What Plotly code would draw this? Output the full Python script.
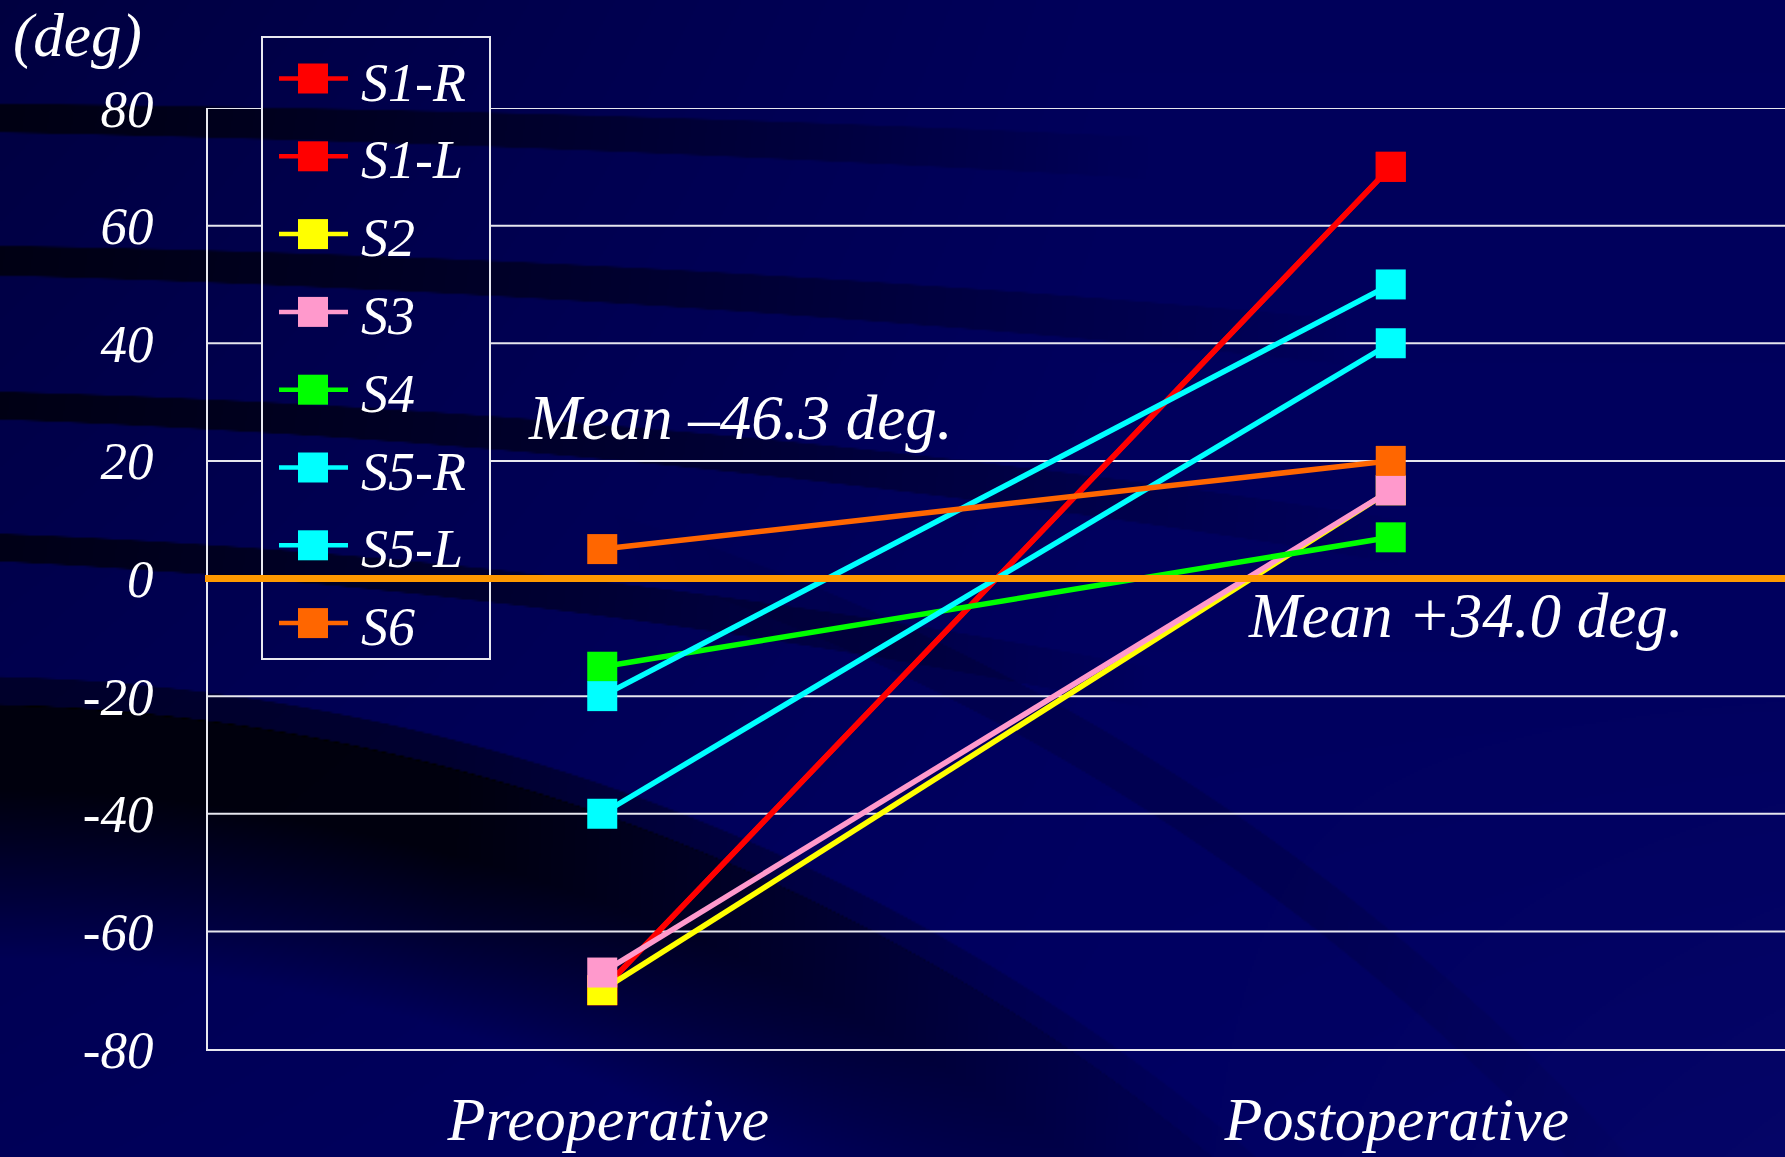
import base64
import struct
import zlib

import numpy as np
import plotly.graph_objects as go

# ---------------------------------------------------------------- data
categories = ["Preoperative", "Postoperative"]
series_names = ["S1-R", "S1-L", "S2", "S3", "S4", "S5-R", "S5-L", "S6"]
preoperative = [-70, -70, -70, -67, -15, -20, -40, 5]
postoperative = [70, 70, 15, 15, 7, 50, 40, 20]
series_colors = ["#FF0000", "#FF0000", "#FFFF00", "#FF99CC",
                 "#00FF00", "#00FFFF", "#00FFFF", "#FF6600"]

y_tick_values = [-80, -60, -40, -20, 0, 20, 40, 60, 80]
y_tick_labels = ["-80", "-60", "-40", "-20", "0", "20", "40", "60", "80"]
grid_values = [-60, -40, -20, 20, 40, 60, 80]

mean_pre_label = "Mean \u201346.3 deg."
mean_post_label = "Mean +34.0 deg."
unit_label = "(deg)"

# ---------------------------------------------------------------- page geometry
W, H = 1785, 1157
ML, MR, MT, MB = 208, 0, 108, 108
PW, PH = W - ML - MR, H - MT - MB
Y_MIN, Y_MAX = -80, 80


def px(x):
    """page pixel x -> paper coordinate"""
    return (x - ML) / PW


def py(y):
    """page pixel y (from top) -> paper coordinate"""
    return (H - MB - y) / PH


def value_to_page_y(v):
    return MT + (Y_MAX - v) / (Y_MAX - Y_MIN) * PH


FONT = "Liberation Serif"
WHITE = "#FFFFFF"


# ---------------------------------------------------------------- slide background
def smooth_band(depth, thick):
    return np.clip(depth + 0.75, 0, 1) * np.clip(thick - depth + 0.75, 0, 1)


def build_background():
    w2, h2 = (W + 1) // 2, (H + 1) // 2
    X = (np.arange(w2) + 0.5) * W / w2
    Y = (np.arange(h2) + 0.5) * H / h2
    X, Y = np.meshgrid(X, Y)

    fx = np.clip(1 - X / 1100, 0, 1)
    blue = 90 + 8 * (Y / H) - 26 * fx * (1 - 0.6 * Y / H)

    keep = np.ones_like(X)

    # near-horizontal dark sweeps on the upper part
    sweeps = [  # (top edge at left, thickness, radius, strength, fade end x)
        (104, 28, 30000, 0.72, 1150),
        (246, 29, 17800, 0.72, 1350),
        (392, 27, 11000, 0.72, 1400),
        (534, 27, 7600, 0.70, 1150),
    ]
    cx = -300.0
    for y0, thick, R, k0, fade_end in sweeps:
        cy = y0 + np.sqrt(R * R - cx * cx)
        depth = R - np.hypot(X - cx, Y - cy)
        fade = np.clip((fade_end - X) / fade_end, 0, 1) ** 0.8
        keep *= 1 - k0 * smooth_band(depth, thick + X / 90) * fade

    # large dark swoosh in the lower left
    cx, cy, R = -48.6, 2685.7, 2009.3
    depth = R - np.hypot(X - cx, Y - cy)
    outer = 0.45 * smooth_band(depth, 28)
    inner = (np.clip(depth - 28 + 0.75, 0, 1) * 0.84
             * np.clip(1 - (depth - 110) / 170, 0, 1))
    xfade = np.clip(1 - (X - 450) / 900, 0.15, 1)
    keep *= 1 - (outer + inner) * xfade

    # faint outer arc towards the lower right
    depth2 = (R + 260) - np.hypot(X - cx, Y - cy)
    arc_fade = np.clip((X - 600) / 300, 0, 1) * np.clip((1700 - X) / 400, 0, 1)
    keep *= 1 - 0.15 * smooth_band(depth2, 45) * arc_fade

    blue = blue * keep
    glow = 5 * np.clip((X - 1150) / 635, 0, 1) * np.clip((Y - 650) / 507, 0, 1)
    img = np.stack([glow, glow, blue + glow], axis=-1)
    return np.clip(np.round(img), 0, 255).astype(np.uint8)


def to_png(img):
    h, w, _ = img.shape
    raw = np.concatenate([np.zeros((h, 1), np.uint8), img.reshape(h, w * 3)], axis=1).tobytes()

    def chunk(tag, data):
        return (struct.pack(">I", len(data)) + tag + data
                + struct.pack(">I", zlib.crc32(tag + data) & 0xFFFFFFFF))

    return (b"\x89PNG\r\n\x1a\n"
            + chunk(b"IHDR", struct.pack(">IIBBBBB", w, h, 8, 2, 0, 0, 0))
            + chunk(b"IDAT", zlib.compress(raw, 9))
            + chunk(b"IEND", b""))


bg_uri = "data:image/png;base64," + base64.b64encode(to_png(build_background())).decode()

# ---------------------------------------------------------------- traces
fig = go.Figure()
for name, pre, post, color in zip(series_names, preoperative, postoperative, series_colors):
    fig.add_trace(go.Scatter(
        x=categories, y=[pre, post], name=name, mode="lines+markers",
        line=dict(color=color, width=5.5),
        marker=dict(symbol="square", size=30, color=color, line=dict(width=0)),
        showlegend=False, cliponaxis=False,
    ))

shapes = []

# horizontal gridlines, interrupted where they pass behind the legend box
LEG_L, LEG_R, LEG_T, LEG_B = 262, 490, 37, 659
for v in grid_values:
    if LEG_T <= value_to_page_y(v) <= LEG_B:
        spans = ((0, px(LEG_L)), (px(LEG_R), 1))
    else:
        spans = ((0, 1),)
    for x0, x1 in spans:
        shapes.append(dict(type="line", xref="paper", yref="y", x0=x0, x1=x1, y0=v, y1=v,
                           line=dict(color="#E6E6EE", width=2), layer="below"))

# legend frame and entries
shapes.append(dict(type="rect", xref="paper", yref="paper",
                   x0=px(LEG_L), x1=px(LEG_R), y0=py(LEG_B), y1=py(LEG_T),
                   line=dict(color="#E8E8F0", width=2), fillcolor="rgba(0,0,0,0)", layer="above"))

annotations = []
ROW0, ROW_STEP = 78.5, 77.8
for i, (name, color) in enumerate(zip(series_names, series_colors)):
    yc = ROW0 + i * ROW_STEP
    shapes.append(dict(type="line", xref="paper", yref="paper",
                       x0=px(279), x1=px(348), y0=py(yc), y1=py(yc),
                       line=dict(color=color, width=4.5), layer="above"))
    shapes.append(dict(type="rect", xref="paper", yref="paper",
                       x0=px(298), x1=px(328), y0=py(yc + 15), y1=py(yc - 15),
                       line=dict(width=0), fillcolor=color, layer="above"))
    annotations.append(dict(text=name, xref="paper", yref="paper", x=px(359), y=py(yc + 4),
                            xanchor="left", yanchor="middle", showarrow=False,
                            font=dict(family=FONT, size=54, color=WHITE, style="italic")))

# orange zero line drawn over everything
shapes.append(dict(type="line", xref="paper", yref="y", x0=px(205), x1=1, y0=0, y1=0,
                   line=dict(color="#FF9900", width=7), layer="above"))

# text labels
annotations += [
    dict(text=unit_label, xref="paper", yref="paper", x=px(11), y=py(36),
         xanchor="left", yanchor="middle", showarrow=False,
         font=dict(family=FONT, size=61, color=WHITE, style="italic")),
    dict(text=mean_pre_label, xref="paper", yref="paper", x=px(526), y=py(418),
         xanchor="left", yanchor="middle", showarrow=False,
         font=dict(family=FONT, size=63, color=WHITE, style="italic")),
    dict(text=mean_post_label, xref="paper", yref="paper", x=px(1246), y=py(616),
         xanchor="left", yanchor="middle", showarrow=False,
         font=dict(family=FONT, size=63, color=WHITE, style="italic")),
]

fig.update_layout(
    width=W, height=H,
    margin=dict(l=ML, r=MR, t=MT, b=MB, pad=0, autoexpand=False),
    paper_bgcolor="#000050", plot_bgcolor="rgba(0,0,0,0)",
    showlegend=False,
    shapes=shapes, annotations=annotations,
    images=[dict(source=bg_uri, xref="paper", yref="paper",
                 x=px(0), y=py(0), sizex=W / PW, sizey=H / PH,
                 xanchor="left", yanchor="top", sizing="stretch", layer="below")],
    xaxis=dict(type="category", categoryorder="array", categoryarray=categories,
               range=[-0.5, 1.5], showgrid=False, zeroline=False, automargin=False,
               showline=True, linecolor="#E8E8F0", linewidth=2, ticks="",
               ticklabelstandoff=15, ticklabelshift=6,
               tickfont=dict(family=FONT, size=62, color=WHITE, style="italic")),
    yaxis=dict(range=[Y_MIN, Y_MAX], tickvals=y_tick_values, ticktext=y_tick_labels,
               showgrid=False, zeroline=False, automargin=False,
               showline=True, linecolor="#E8E8F0", linewidth=2, ticks="",
               ticklabelstandoff=42,
               tickfont=dict(family=FONT, size=53, color=WHITE, style="italic")),
)

fig.write_html("out.html")
